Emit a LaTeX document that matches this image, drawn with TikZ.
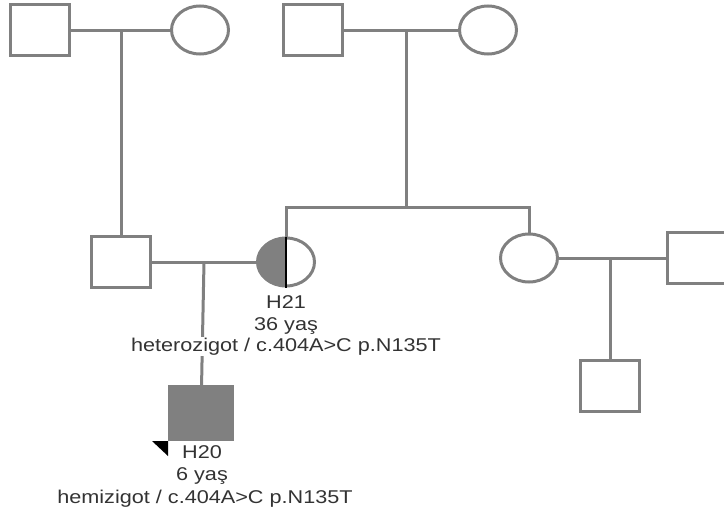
\documentclass[tikz,border=0pt]{standalone}
\usepackage{fontspec}
\setmainfont{Liberation Sans}
\newfontfamily\pedfont[FakeStretch=1.17]{Liberation Sans}
\usetikzlibrary{positioning, calc, shapes.geometric}
\definecolor{pedline}{HTML}{808080}
\definecolor{pedtext}{HTML}{333333}

\begin{document}
\begin{tikzpicture}[
        x=1pt, y=-1pt,
        male/.style={rectangle, draw=pedline, line width=3pt, fill=white, minimum width=59pt, minimum height=51pt, inner sep=0pt},
        female/.style={ellipse, draw=pedline, line width=3pt, fill=white, minimum width=57pt, minimum height=48pt, inner sep=0pt},
        affected/.style={fill=pedline},
        link/.style={draw=pedline, line width=3pt},
        lbl/.style={text=pedtext, font=\pedfont\fontsize{18.5}{22.5}\selectfont, align=center, inner sep=1pt}
    ]
        \useasboundingbox (0,0) rectangle (724,514);

        % --- GRANDPARENTS ---
        \node[male] (gfP) at (40,30) {};
        \node[female] (gmP) at (200,30) {};
        \node[male] (gfM) at (313,30) {};
        \node[female] (gmM) at (488,30) {};

        % --- PARENTS / AUNT ---
        \node[male] (father) at (121,262) {};
        \node[female] (h21) at (286,262) {};
        \node[female] (aunt) at (529,258) {};
        \node[male] (uncle) at (697,258) {};

        % --- CHILDREN ---
        \node[male, affected, minimum width=63pt, minimum height=53pt] (h20) at (201,413) {};
        \node[male] (cousin) at (610,386) {};

        \coordinate (mP) at (121,30);
        \coordinate (mM) at (406,30);
        \coordinate (sibM) at (406,207);
        \coordinate (mH) at (204,262);
        \coordinate (mA) at (610,258);

        % --- CONNECTIONS ---
        \draw[link] (gfP) -- (gmP);
        \draw[link] (mP) -- (father);
        \draw[link] (gfM) -- (gmM);
        \draw[link] (mM) -- (sibM);
        \draw[link] (h21) |- (sibM) -| (aunt);
        \draw[link] (father) -- (h21);
        \draw[link] (mH) -- (h20);
        \draw[link] (aunt) -- (uncle);
        \draw[link] (mA) -- (cousin);

        % carrier half of H21
        \begin{scope}
            \clip (h21.north -| h21.west) rectangle (h21.south);
            \fill[pedline] (h21.center) ellipse [x radius=29.5pt, y radius=25pt];
        \end{scope}
        \draw[black, line width=1.4pt] (h21.north) -- (h21.south);

        % proband arrow
        \fill[black] ($(h20.south west)+(-16,0)$) -- (h20.south west) -- ($(h20.south west)+(0,15)$) -- cycle;

        % --- LABELS ---
        \node[lbl, anchor=north] (h21id) at (286,294) {H21\\36 yaş};
        \node[lbl, anchor=north, fill=white] (h21gt) at (286,337) {heterozigot / c.404A>C p.N135T};
        \node[lbl, anchor=north] (h20id) at (202,444) {H20\\6 yaş};
        \node[lbl, anchor=north] (h20gt) at (205,489) {hemizigot / c.404A>C p.N135T};

    \end{tikzpicture}
\end{document}
